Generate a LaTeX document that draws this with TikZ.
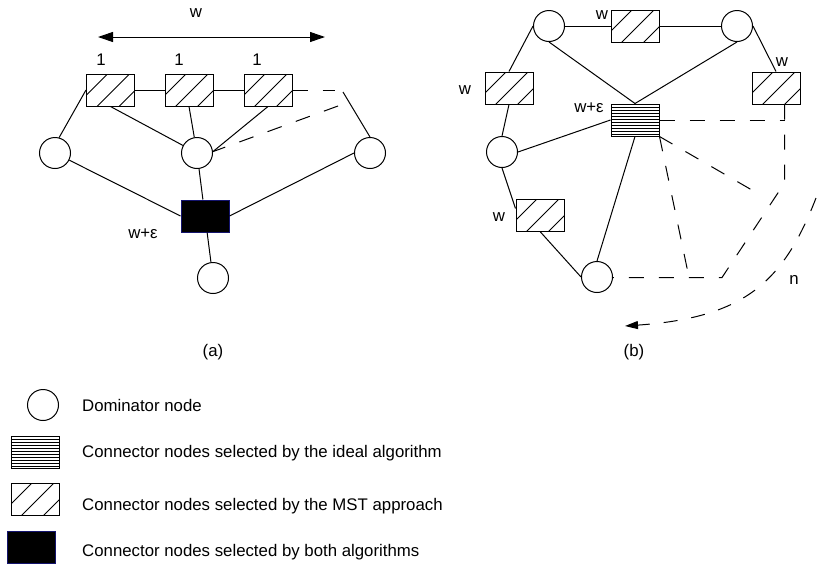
\documentclass[tikz,border=0pt]{standalone}
\usepackage{fontspec}
\setmainfont{Liberation Sans}
\usetikzlibrary{arrows.meta}
\definecolor{navyedge}{RGB}{20,20,110}
\begin{document}
\begin{tikzpicture}[x=1pt,y=-1pt,
  every node/.style={font=\fontsize{16.8}{19}\selectfont},
  link/.style={line width=1pt},
  dlink/.style={line width=1pt, dash pattern=on 15pt off 15pt},
  dom/.style={circle, draw, line width=1pt, minimum size=31pt, inner sep=0pt},
  conn/.style={rectangle, draw, line width=1pt, minimum width=48pt, minimum height=32pt, inner sep=0pt},
  msthatch/.style={conn, path picture={
      \foreach \k in {21,43,65}{\draw[line width=0.8pt] (path picture bounding box.north west) ++(\k,0) -- ++(-50,50);}}},
  idealhatch/.style={conn, path picture={
      \foreach \k in {3,6,...,30}{\draw[line width=0.6pt] (path picture bounding box.north west) ++(0,\k) -- ++(60,0);}}},
  bothfill/.style={conn, fill=black, draw=navyedge},
  lbl/.style={inner sep=0pt},
]
\useasboundingbox (0,0) rectangle (817,563);

% ---------------- (a) ----------------
\node[msthatch] (a1) at (110.5,90) {};
\node[msthatch] (a2) at (189,90) {};
\node[msthatch] (a3) at (268,90) {};
\node[dom] (ca1) at (55,153) {};
\node[dom] (ca2) at (197,153) {};
\node[dom] (ca3) at (370,153) {};
\node[dom] (ca4) at (213,278) {};
\node[bothfill] (ablk) at (205,216) {};

\coordinate (aw1) at (98,37);
\coordinate (aw2) at (325,37);
\coordinate (ad1) at (335,90);
\coordinate (ad2) at (338,106);
\coordinate (ad3) at (343,92);

\draw[link, {Triangle[length=15pt,width=10pt]}-{Triangle[length=15pt,width=10pt]}] (aw1) -- (aw2);
\node[lbl] at (196,13) {w};
\node[lbl, anchor=base] at (101,65) {1};
\node[lbl, anchor=base] at (179,65) {1};
\node[lbl, anchor=base] at (257,65) {1};

\draw[link] (a1) -- (a2) -- (a3);
\draw[dlink] (a3.east) -- (ad1);
\draw[link] (a1.west) -- (ca1.75);
\draw[link] (a1.south) -- (ca2);
\draw[link] (a2.south) -- (ca2);
\draw[link] (a3.south) -- (ca2.5);
\draw[dlink] (ad2) -- (ca2.5);
\draw[link] (ad3) -- (ca3.north);
\draw[link] (ca1) -- (ablk.west);
\draw[link] (ca2) -- (ablk);
\draw[link] (ablk) -- (ca4);
\draw[link] (ca3.west) -- (ablk.east);
\node[lbl] at (143,234) {w+ε};
\node[lbl] at (213,352) {(a)};

% ---------------- (b) ----------------
\node[dom] (cb1) at (549,26) {};
\node[dom] (cb2) at (737,26) {};
\node[dom] (cb3) at (502,152) {};
\node[dom] (cb4) at (597,277) {};
\node[msthatch] (bt) at (635,26) {};
\node[msthatch] (br) at (776,88) {};
\node[msthatch] (bl) at (509,88) {};
\node[msthatch] (bbl) at (540,215) {};
\node[idealhatch] (bm) at (635,120) {};

\coordinate (kneeA) at (784.5,183);
\coordinate (kneeB) at (722,277.5);
\coordinate (footC) at (689,277.5);
\coordinate (looseD) at (757,193);
\coordinate (arcS) at (816,198);
\coordinate (arcE) at (625,326);

\draw[link] (cb1) -- (bt) -- (cb2);
\draw[link] (cb1.west) -- (bl.north);
\draw[link] (bl.south) -- (cb3.north);
\draw[link] (cb3.south) -- (bbl.165);
\draw[link] (bbl.south) -- (cb4.west);
\draw[link] (cb1.south) -- (bm.north);
\draw[link] (cb2.south) -- (bm.north);
\draw[link] (cb2.east) -- (br.north);
\draw[link] (cb3.east) -- (bm.west);
\draw[link] (cb4.north) -- (bm.south);

\draw[dlink] (bm.east) -- (bm.east -| kneeA);
\draw[dlink] (kneeA |- br.south) -- (kneeA) -- (kneeB) -- (cb4.east |- kneeB);
\draw[dlink] (bm.south east) -- (footC);
\draw[dlink] (bm.south east) -- (looseD);
\draw[link, dash pattern=on 14pt off 14pt, -{Triangle[length=13pt,width=8pt]}]
  (arcS) .. controls (783.6,281.7) and (745,317.6) .. (arcE);

\node[lbl] at (602,15) {w};
\node[lbl] at (782,62) {w};
\node[lbl] at (465,90) {w};
\node[lbl] at (499,217) {w};
\node[lbl] at (589,108) {w+ε};
\node[lbl] at (794,280) {n};
\node[lbl] at (634,352) {(b)};

% ---------------- legend ----------------
\node[dom] (lg1) at (43,405) {};
\node[idealhatch] (lg2) at (35,452) {};
\node[msthatch] (lg3) at (35,499) {};
\node[bothfill] (lg4) at (31,547) {};
\node[lbl, anchor=base west] at (82,411) {Dominator node};
\node[lbl, anchor=base west] at (82,457) {Connector nodes selected by the ideal algorithm};
\node[lbl, anchor=base west] at (82,510) {Connector nodes selected by the MST approach};
\node[lbl, anchor=base west] at (82,556) {Connector nodes selected by both algorithms};
\end{tikzpicture}
\end{document}
